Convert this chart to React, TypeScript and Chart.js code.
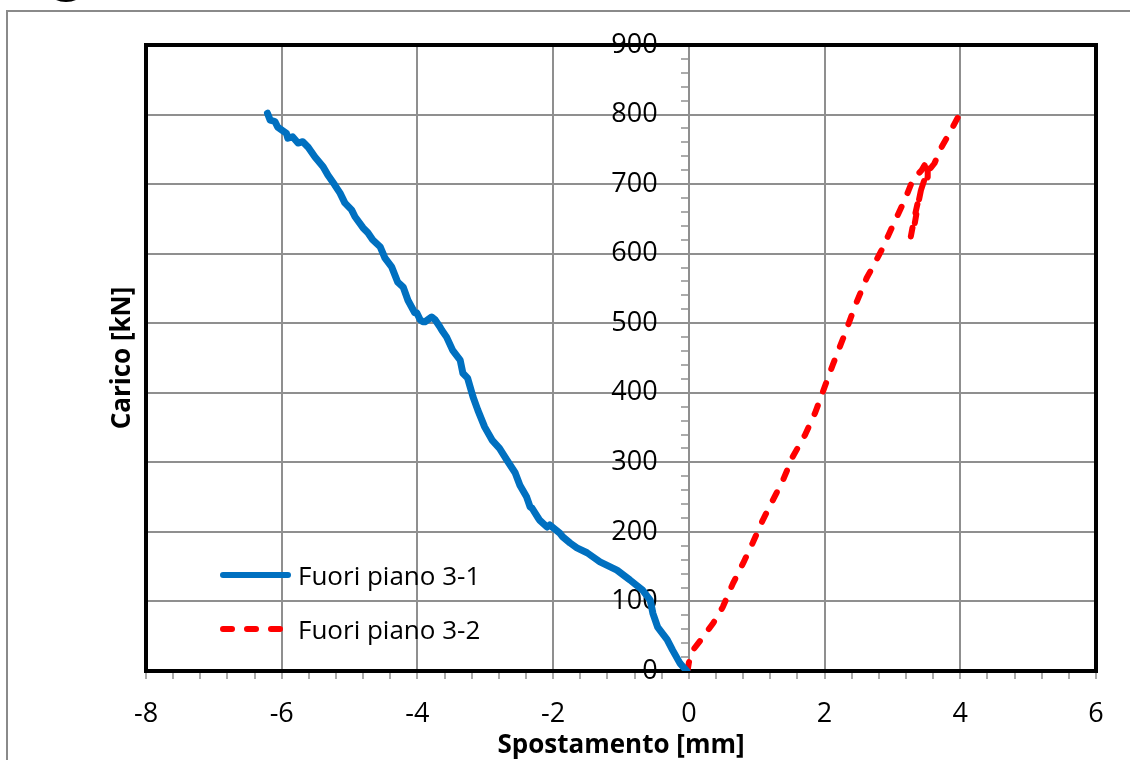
import React, { useEffect, useRef } from 'react';
import { Chart, registerables } from 'chart.js';

Chart.register(...registerables);

// ---------- data ----------
const seriesNames = ['Fuori piano 3-1', 'Fuori piano 3-2'];

const blueX = [
  -0.03, -0.13, -0.24, -0.32, -0.46, -0.53, -0.57, -0.68, -0.87, -1.06, -1.31, -1.5, -1.65, -1.75,
  -1.86, -1.9, -2.0, -2.05, -2.09, -2.2, -2.22, -2.31, -2.34, -2.39, -2.49, -2.56, -2.68, -2.79,
  -2.9, -3.01, -3.11, -3.18, -3.26, -3.33, -3.37, -3.48, -3.57, -3.64, -3.67, -3.74, -3.79, -3.82,
  -3.89, -3.92, -3.96, -4.01, -4.04, -4.14, -4.21, -4.29, -4.38, -4.48, -4.55, -4.66, -4.73, -4.8,
  -4.92, -4.97, -5.07, -5.14, -5.22, -5.32, -5.39, -5.51, -5.61, -5.69, -5.76, -5.84, -5.91, -5.93,
  -6.06, -6.1, -6.17, -6.21,
];
const blueY = [
  0, 11, 30, 45, 63, 83, 102, 116, 131, 145, 157, 170, 177, 184,
  193, 198, 206, 210, 207, 217, 220, 234, 236, 250, 267, 285, 303, 320,
  332, 351, 375, 394, 421, 428, 447, 461, 480, 490, 495, 505, 509, 507,
  502, 502, 505, 515, 515, 533, 552, 559, 581, 594, 610, 620, 630, 637,
  653, 663, 673, 687, 699, 713, 725, 739, 753, 761, 759, 768, 766, 773,
  782, 790, 792, 802,
];

const redX = [
  -0.02, 0.0, 0.06, 0.21, 0.36, 0.5, 0.65, 0.8, 0.94, 1.09, 1.24, 1.39, 1.53, 1.71, 1.86, 1.97,
  2.12, 2.3, 2.45, 2.62, 2.71, 2.84, 2.99, 3.18, 3.3, 3.43, 3.52,
  3.52, 3.43, 3.37, 3.33, 3.27,
  3.32, 3.4, 3.5, 3.62, 3.7, 3.85, 3.97,
];
const redY = [
  0, 12, 30, 49, 69, 92, 126, 155, 184, 217, 246, 275, 308, 339, 371, 400,
  440, 485, 525, 565, 581, 605, 637, 677, 706, 720, 735,
  710, 696, 667, 644, 624,
  650, 685, 715, 730, 749, 775, 797,
];

const xMajorTicks = [-8, -6, -4, -2, 0, 2, 4, 6];
const yMajorTicks = [0, 100, 200, 300, 400, 500, 600, 700, 800, 900];
const xTitle = 'Spostamento [mm]';
const yTitle = 'Carico [kN]';

// ---------- styles ----------
const BLUE = '#0070C0';
const RED = '#FF0000';
const GRID = '#8f8f8f';
const FONT = "'Open Sans', 'Noto Sans', sans-serif";
const Y_LABEL_ANCHOR = -0.46; // x-value where the y tick labels end (left of the y axis line)

const isMajor = (v: number, list: number[]) => list.some((m) => Math.abs(m - v) < 1e-6);

const framePlugin = {
  id: 'framePlugin',
  beforeDraw(chart: any) {
    const { ctx } = chart;
    ctx.save();
    ctx.fillStyle = '#ffffff';
    ctx.fillRect(0, 0, chart.width, chart.height);
    ctx.strokeStyle = '#8a8a8a';
    ctx.lineWidth = 2;
    ctx.strokeRect(7, 11, chart.width + 20, chart.height + 20);
    ctx.fillStyle = '#000';
    ctx.beginPath();
    ctx.ellipse(66, -6, 15, 8, 0, 0, Math.PI * 2);
    ctx.fill();
    ctx.fillStyle = '#fff';
    ctx.beginPath();
    ctx.ellipse(66, -7, 13, 7, 0, 0, Math.PI * 2);
    ctx.fill();
    ctx.restore();
  },
  beforeDatasetsDraw(chart: any) {
    const { ctx, chartArea } = chart;
    ctx.save();
    ctx.strokeStyle = '#000000';
    ctx.lineWidth = 4;
    ctx.strokeRect(chartArea.left, chartArea.top, chartArea.right - chartArea.left, chartArea.bottom - chartArea.top);
    ctx.restore();
  },
};

export default function App() {
  const canvasRef = useRef<HTMLCanvasElement | null>(null);

  useEffect(() => {
    document.body.style.margin = '0';
    const canvas = canvasRef.current;
    if (!canvas) return;
    const chart = new Chart(canvas, {
      type: 'scatter',
      data: {
        datasets: [
          {
            label: seriesNames[0],
            data: blueX.map((x, i) => ({ x, y: blueY[i] })),
            showLine: true,
            borderColor: BLUE,
            backgroundColor: BLUE,
            borderWidth: 7,
            pointRadius: 0,
            borderCapStyle: 'round',
            borderJoinStyle: 'round',
            tension: 0,
          },
          {
            label: seriesNames[1],
            data: redX.map((x, i) => ({ x, y: redY[i] })),
            showLine: true,
            borderColor: RED,
            backgroundColor: RED,
            borderWidth: 6,
            borderDash: [9, 15],
            pointRadius: 0,
            borderCapStyle: 'round',
            borderJoinStyle: 'round',
            tension: 0,
          },
        ],
      },
      options: {
        responsive: false,
        animation: false,
        layout: { padding: { left: 0, top: 45, right: 34, bottom: 0 } },
        plugins: { legend: { display: false }, tooltip: { enabled: false } },
        scales: {
          x: {
            type: 'linear',
            position: 'bottom',
            min: -8,
            max: 6,
            afterFit: (s: any) => {
              s.height = 89;
            },
            ticks: {
              stepSize: 0.4,
              autoSkip: false,
              maxRotation: 0,
              padding: 19,
              color: '#000',
              font: { family: FONT, size: 27 },
              callback: (v: any) => (isMajor(Number(v), xMajorTicks) ? String(Math.round(Number(v))) : ''),
            },
            grid: {
              color: (c: any) => (isMajor(c.tick.value, xMajorTicks) ? GRID : 'rgba(0,0,0,0)'),
              lineWidth: 2,
              tickColor: GRID,
              tickLength: 8,
              tickWidth: 1.5,
            },
            border: { display: false },
            title: {
              display: true,
              text: xTitle,
              color: '#000',
              font: { family: FONT, size: 26, weight: 'bold' },
              padding: { top: 0, bottom: -1 },
            },
          },
          y: {
            type: 'linear',
            position: { x: 0 } as any,
            min: 0,
            max: 900,
            afterFit: (s: any) => {
              s.width = 0;
            },
            ticks: {
              stepSize: 20,
              autoSkip: false,
              callback: () => '',
            },
            grid: {
              color: (c: any) => (isMajor(c.tick.value, yMajorTicks) ? GRID : 'rgba(0,0,0,0)'),
              lineWidth: 2,
              tickColor: GRID,
              tickLength: 7,
              tickWidth: 1.5,
            },
            border: { color: GRID, width: 2 },
          },
          yLabels: {
            type: 'linear',
            position: { x: Y_LABEL_ANCHOR } as any,
            min: 0,
            max: 900,
            afterFit: (s: any) => {
              s.width = 0;
            },
            ticks: {
              autoSkip: false,
              color: '#000',
              font: { family: FONT, size: 27 },
              callback: (v: any) => (isMajor(Number(v), yMajorTicks) ? String(Math.round(Number(v))) : ''),
            },
            afterBuildTicks: (s: any) => {
              s.ticks = yMajorTicks.map((value) => ({ value }));
            },
            grid: { display: false },
            border: { display: false },
          },
          yLeft: {
            type: 'linear',
            position: 'left',
            min: 0,
            max: 900,
            afterFit: (s: any) => {
              s.width = 146;
            },
            ticks: { display: false },
            grid: { display: false },
            border: { display: false },
            title: {
              display: true,
              text: yTitle,
              color: '#000',
              font: { family: FONT, size: 26, weight: 'bold' },
              padding: { top: 107, bottom: 0 },
            },
          },
        },
      },
      plugins: [framePlugin],
    } as any);
    return () => chart.destroy();
  }, []);

  const legendItem = (i: number, top: number) => (
    <div
      key={i}
      style={{ position: 'absolute', left: 220, top: top - 20, height: 40, display: 'flex', alignItems: 'center' }}
    >
      <svg width={74} height={12} style={{ display: 'block' }}>
        {i === 0 ? (
          <line x1={3} y1={6} x2={68} y2={6} stroke={BLUE} strokeWidth={6} strokeLinecap="round" />
        ) : (
          <line x1={3} y1={6} x2={70} y2={6} stroke={RED} strokeWidth={6} strokeLinecap="round" strokeDasharray="9 15" />
        )}
      </svg>
      <span style={{ marginLeft: 4, fontFamily: FONT, fontSize: 26, color: '#000', whiteSpace: 'nowrap', lineHeight: '40px' }}>
        {seriesNames[i]}
      </span>
    </div>
  );

  return (
    <div style={{ position: 'fixed', left: 0, top: 0, width: 1130, height: 760, overflow: 'hidden', background: '#fff' }}>
      <canvas ref={canvasRef} width={1130} height={760} style={{ display: 'block' }} />
      {legendItem(0, 575)}
      {legendItem(1, 629)}
    </div>
  );
}
